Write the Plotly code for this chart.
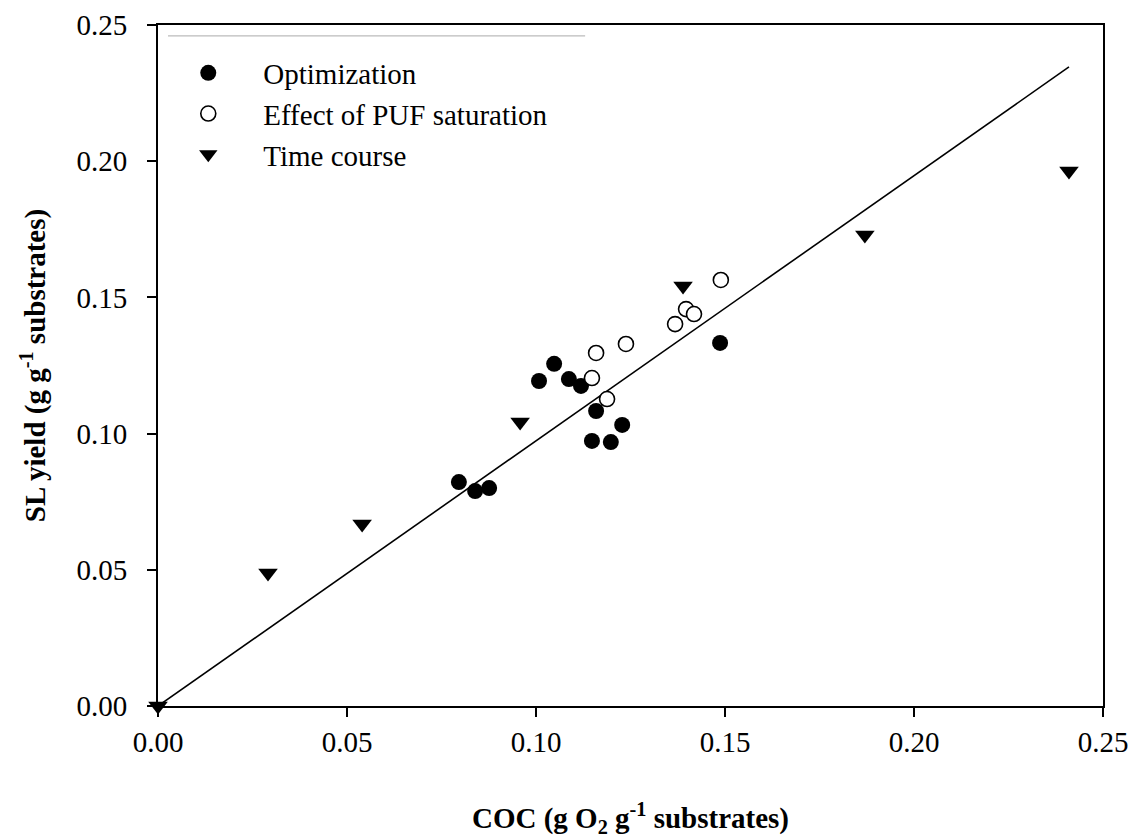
import plotly.graph_objects as go

# Optimization runs
opt_x = [0.0796, 0.0839, 0.0876, 0.1008, 0.1048, 0.1087, 0.1119, 0.1159, 0.1148, 0.1198, 0.1228, 0.1487]
opt_y = [0.0822, 0.0789, 0.0800, 0.1193, 0.1256, 0.1200, 0.1175, 0.1083, 0.0973, 0.0969, 0.1032, 0.1333]

# Effect of PUF saturation
puf_x = [0.1148, 0.1159, 0.1238, 0.1188, 0.1368, 0.1397, 0.1418, 0.1489]
puf_y = [0.1204, 0.1296, 0.1329, 0.1127, 0.1402, 0.1457, 0.1439, 0.1564]

# Time course
time_x = [0.0, 0.0291, 0.0540, 0.0958, 0.1389, 0.1870, 0.2410]
time_y = [0.0, 0.0488, 0.0668, 0.1043, 0.1542, 0.1729, 0.1964]

# Linear fit through all data
fit_x = [0.0, 0.2410]
fit_y = [0.0, 0.2346]

ticks = [0.0, 0.05, 0.10, 0.15, 0.20, 0.25]
tick_text = ["0.00", "0.05", "0.10", "0.15", "0.20", "0.25"]

FONT = "Times New Roman, Liberation Serif, serif"

fig = go.Figure()

fig.add_trace(go.Scatter(
    x=fit_x, y=fit_y, mode="lines", showlegend=False,
    line=dict(color="black", width=1.6), cliponaxis=False,
))
fig.add_trace(go.Scatter(
    x=opt_x, y=opt_y, mode="markers", name="Optimization",
    marker=dict(symbol="circle", size=16, color="black"), cliponaxis=False,
))
fig.add_trace(go.Scatter(
    x=puf_x, y=puf_y, mode="markers", name="Effect of PUF saturation",
    marker=dict(symbol="circle", size=15, color="white",
                line=dict(color="black", width=1.6)), cliponaxis=False,
))
fig.add_trace(go.Scatter(
    x=time_x, y=time_y, mode="markers", name="Time course",
    marker=dict(symbol="triangle-down", size=17, color="black"), cliponaxis=False,
))

axis_common = dict(
    range=[0, 0.25], tickvals=ticks, ticktext=tick_text,
    ticks="outside", ticklen=9, tickwidth=1.5, tickcolor="black",
    showline=True, linewidth=2, linecolor="black", mirror=True,
    showgrid=False, zeroline=False, automargin=False,
    tickfont=dict(family=FONT, size=29, color="black"),
)

fig.update_xaxes(
    **axis_common,
    title=dict(text="COC (g O<sub>2</sub> g<sup>-1</sup> substrates)",
               font=dict(family=FONT, size=29, color="black", weight="bold"),
               standoff=54),
)
fig.update_yaxes(
    **axis_common,
    ticklabelstandoff=14,
    title=dict(text="SL yield (g g<sup>-1</sup> substrates)",
               font=dict(family=FONT, size=29, color="black", weight="bold"),
               standoff=22),
)

# Thin rule above the legend
fig.add_shape(type="line", xref="paper", yref="paper",
              x0=0.0106, x1=0.452, y0=0.984, y1=0.984,
              line=dict(color="#bbbbbb", width=1.2))

fig.update_layout(
    template="none",
    width=1135, height=838,
    margin=dict(l=158, r=32, t=25, b=132),
    paper_bgcolor="white", plot_bgcolor="white",
    font=dict(family=FONT, color="black"),
    legend=dict(x=-0.005, y=0.967, xanchor="left", yanchor="top",
                font=dict(family=FONT, size=29, color="black"),
                bgcolor="rgba(0,0,0,0)", itemwidth=100, tracegroupgap=0),
)

fig.write_html("out.html")
